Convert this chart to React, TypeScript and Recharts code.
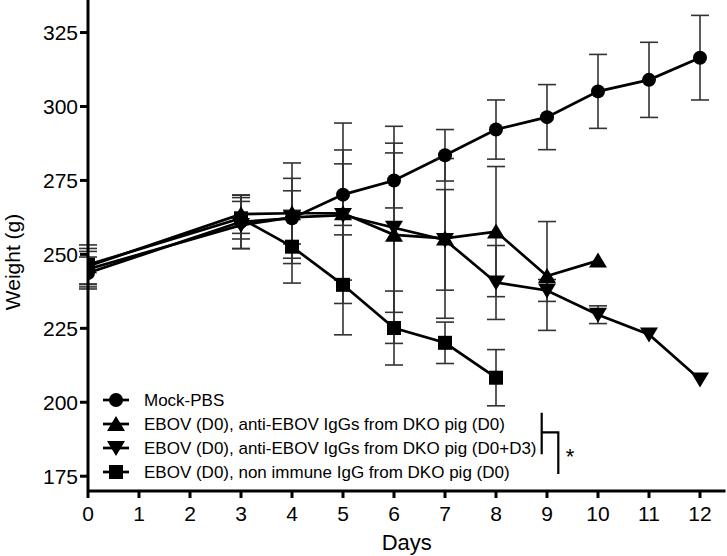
import React from "react";
import { LineChart, Line, XAxis, YAxis, ErrorBar, Legend } from "recharts";

const FONT = "'Liberation Sans', Arial, Helvetica, sans-serif";

// days sampled for each group
const DAYS_FULL = [0, 3, 4, 5, 6, 7, 8, 9, 10, 11, 12];
const DAYS_D10 = [0, 3, 4, 5, 6, 7, 8, 9, 10];
const DAYS_D8 = [0, 3, 4, 5, 6, 7, 8];

// mean weight (g) and SD
const MOCK_MEAN = [243.7, 261, 262.2, 270.2, 275, 283.5, 292.2, 296.4, 305.1, 309, 316.5];
const MOCK_SD = [5.4, 9, 13.5, 10.4, 9.3, 8.7, 10, 11, 12.5, 12.7, 14.3];

const ANTI_D0_MEAN = [246, 263.6, 263.9, 263.9, 256.6, 255.4, 257.7, 242.7, 247.9];
const ANTI_D0_SD = [6, 6.5, 17, 30.5, 36.7, 27, 22, 18.4, 0];

const ANTI_D0D3_MEAN = [245, 259.9, 262.5, 263.3, 259, 254.9, 240.5, 237.8, 229.6, 222.9, 207.7];
const ANTI_D0D3_SD = [6, 8, 9, 22, 28.6, 17, 12.5, 3.7, 3, 0, 0];

const NON_IMMUNE_MEAN = [246.5, 262.2, 252.6, 239.7, 225.1, 220.1, 208.3];
const NON_IMMUNE_SD = [6.7, 7, 12.3, 16.9, 12.5, 7, 9.5];

const X_TICKS = [0, 1, 2, 3, 4, 5, 6, 7, 8, 9, 10, 11, 12];
const Y_TICKS = [175, 200, 225, 250, 275, 300, 325];

const LABELS = [
  "Mock-PBS",
  "EBOV (D0), anti-EBOV IgGs from DKO pig (D0)",
  "EBOV (D0), anti-EBOV IgGs from DKO pig (D0+D3)",
  "EBOV (D0), non immune IgG from DKO pig (D0)",
];

const build = (days: number[], mean: number[], sd: number[]) =>
  days.map((day, i) => ({ day, mean: mean[i], sd: sd[i] }));

const mock = build(DAYS_FULL, MOCK_MEAN, MOCK_SD);
const antiD0 = build(DAYS_D10, ANTI_D0_MEAN, ANTI_D0_SD);
const antiD0D3 = build(DAYS_FULL, ANTI_D0D3_MEAN, ANTI_D0D3_SD);
const nonImmune = build(DAYS_D8, NON_IMMUNE_MEAN, NON_IMMUNE_SD);

type Shape = "circle" | "up" | "down" | "square";

function marker(shape: Shape, cx: number, cy: number, key?: string) {
  if (shape === "circle") return <circle key={key} cx={cx} cy={cy} r={7} fill="#000" />;
  if (shape === "square") return <rect key={key} x={cx - 7} y={cy - 7} width={14} height={14} fill="#000" />;
  if (shape === "up")
    return <path key={key} d={`M${cx},${cy - 8} L${cx + 9},${cy + 7} L${cx - 9},${cy + 7} Z`} fill="#000" />;
  return <path key={key} d={`M${cx},${cy + 8} L${cx + 9},${cy - 7} L${cx - 9},${cy - 7} Z`} fill="#000" />;
}

const dotFor = (shape: Shape) => (props: any) => {
  const { cx, cy, index } = props;
  if (cx == null || cy == null) return <g key={`e-${shape}-${index}`} />;
  return marker(shape, cx, cy, `${shape}-${index}`);
};

const SHAPES: Shape[] = ["circle", "up", "down", "square"];

function renderLegend() {
  const rowY = [15, 39, 63, 87];
  return (
    <svg width={520} height={100} style={{ overflow: "visible", display: "block" }}>
      {LABELS.map((label, i) => (
        <g key={label}>
          <line x1={8} x2={34} y1={rowY[i]} y2={rowY[i]} stroke="#000" strokeWidth={2.7} />
          {marker(SHAPES[i], 21, rowY[i])}
          <text x={49} y={rowY[i]} dominantBaseline="central" fontSize={17} fontFamily={FONT} fill="#000">
            {label}
          </text>
        </g>
      ))}
      <path d="M446.7,27.7 V69.3 M446.7,47.3 H463.3 V89" stroke="#000" strokeWidth={2.2} fill="none" />
      <text x={475} y={79} textAnchor="middle" fontSize={22} fontFamily={FONT} fill="#000">
        *
      </text>
    </svg>
  );
}

const axisStyle = { stroke: "#000", strokeWidth: 3 };
const tickStyle = { fill: "#000", fontSize: 21, fontFamily: FONT };

export default function App() {
  return (
    <div style={{ position: "absolute", left: 0, top: 0, width: 727, height: 556, background: "#fff" }}>
      <LineChart width={727} height={556} margin={{ top: 0, right: 1.5, bottom: 0, left: 0 }}>
        <XAxis
          type="number"
          dataKey="day"
          domain={[0, 12.5]}
          ticks={X_TICKS}
          allowDataOverflow
          height={65}
          tickSize={7}
          tickMargin={8}
          axisLine={axisStyle}
          tickLine={axisStyle}
          tick={tickStyle}
          label={(p: any) => {
            const vb = p.viewBox || { x: 88, width: 637.5 };
            return (
              <text x={vb.x + vb.width / 2} y={550} textAnchor="middle" fontSize={22} fontFamily={FONT} fill="#000">
                Days
              </text>
            );
          }}
        />
        <YAxis
          type="number"
          domain={[170, 336]}
          ticks={Y_TICKS}
          allowDataOverflow
          width={88}
          tickSize={8}
          tickMargin={2}
          axisLine={axisStyle}
          tickLine={axisStyle}
          tick={tickStyle}
          label={() => (
            <text
              transform="translate(20,262) rotate(-90)"
              textAnchor="middle"
              fontSize={21}
              fontFamily={FONT}
              fill="#000"
            >
              Weight (g)
            </text>
          )}
        />
        <Legend
          layout="vertical"
          align="center"
          verticalAlign="middle"
          wrapperStyle={{ left: 95, top: 385, width: 520, height: 100 }}
          content={renderLegend}
        />
        <Line
          data={mock}
          dataKey="mean"
          name={LABELS[0]}
          stroke="#000"
          strokeWidth={2.7}
          dot={dotFor("circle")}
          activeDot={false}
          isAnimationActive={false}
        >
          <ErrorBar dataKey="sd" direction="y" width={9} stroke="#333" strokeWidth={1.6} />
        </Line>
        <Line
          data={antiD0}
          dataKey="mean"
          name={LABELS[1]}
          stroke="#000"
          strokeWidth={2.7}
          dot={dotFor("up")}
          activeDot={false}
          isAnimationActive={false}
        >
          <ErrorBar dataKey="sd" direction="y" width={9} stroke="#333" strokeWidth={1.6} />
        </Line>
        <Line
          data={antiD0D3}
          dataKey="mean"
          name={LABELS[2]}
          stroke="#000"
          strokeWidth={2.7}
          dot={dotFor("down")}
          activeDot={false}
          isAnimationActive={false}
        >
          <ErrorBar dataKey="sd" direction="y" width={9} stroke="#333" strokeWidth={1.6} />
        </Line>
        <Line
          data={nonImmune}
          dataKey="mean"
          name={LABELS[3]}
          stroke="#000"
          strokeWidth={2.7}
          dot={dotFor("square")}
          activeDot={false}
          isAnimationActive={false}
        >
          <ErrorBar dataKey="sd" direction="y" width={9} stroke="#333" strokeWidth={1.6} />
        </Line>
      </LineChart>
    </div>
  );
}
